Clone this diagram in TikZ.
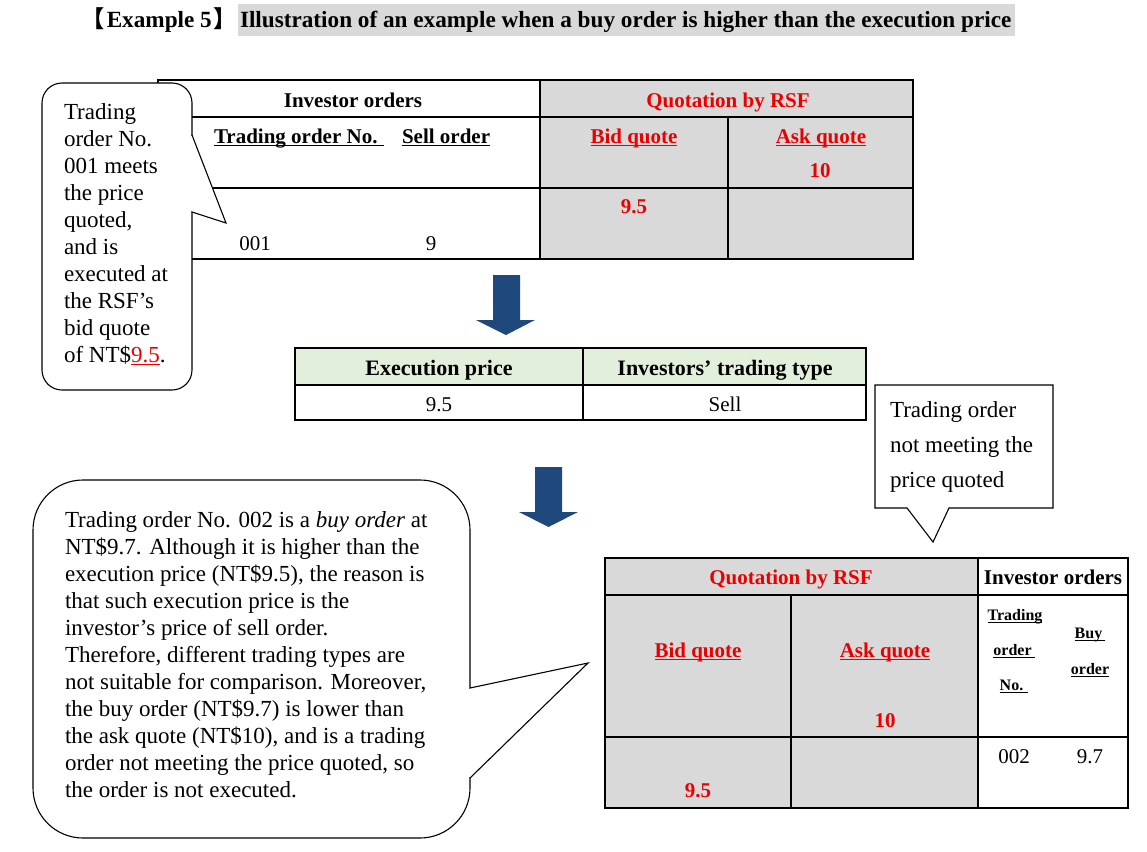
\documentclass[tikz,border=0pt]{standalone}
\usepackage{fontspec}
\setmainfont{Liberation Serif}
\newfontfamily\cjk{Noto Sans CJK SC}
\definecolor{qgray}{RGB}{217,217,217}
\definecolor{hgreen}{RGB}{226,239,218}
\definecolor{ablue}{RGB}{31,73,125}
\definecolor{qred}{RGB}{235,0,0}
\newsavebox{\ulbox}
\newcommand{\uln}[1]{\sbox{\ulbox}{#1}\rlap{\usebox{\ulbox}}\rule[-3.3pt]{\wd\ulbox}{1.5pt}}
\newcommand{\thinul}[1]{\sbox{\ulbox}{#1}\rlap{\usebox{\ulbox}}\rule[-2.6pt]{\wd\ulbox}{0.8pt}}
\newcommand{\calltext}[3]{\parbox[t]{#1}{\fontsize{23}{#2}\selectfont\raggedright #3}}
\tikzset{
  every node/.style={inner sep=0pt, outer sep=0pt},
  tbl/.style={line width=1.1pt, draw=black},
  callout/.style={line width=1.1pt, draw=black, fill=white},
  hdr/.style={font=\fontsize{21}{25}\selectfont\bfseries, anchor=base},
  qhdr/.style={hdr, text=qred},
  cell/.style={font=\fontsize{21}{25}\selectfont, anchor=base},
  small/.style={font=\fontsize{16}{19}\selectfont\bfseries, anchor=base},
  titlefont/.style={font=\fontsize{23.2}{27}\selectfont\bfseries},
  bigarrow/.style={fill=ablue},
}
\begin{document}
\begin{tikzpicture}[x=1pt,y=-1pt]
\useasboundingbox (0,0) rectangle (1147,851);

% ---------- title ----------
\fill[qgray] (238,4) rectangle (1015,36);
\node[anchor=base east, titlefont] (tlab) at (237,28) {{\cjk 【}\hspace{2pt}Example 5\hspace{2pt}{\cjk 】}};
\node[anchor=base west, titlefont] (ttext) at (240,28) {Illustration of an example when a buy order is higher than the execution price};

% ---------- top table ----------
\fill[qgray] (540,80) rectangle (913,259);
\draw[tbl] (158,80) rectangle (913,259);
\draw[tbl] (158,117) -- (913,117);
\draw[tbl] (158,188) -- (913,188);
\draw[tbl] (540,80) -- (540,259);
\draw[tbl] (728,117) -- (728,259);
\node[hdr] (io1) at (353,107) {Investor orders};
\node[hdr, anchor=base west] (ton1) at (214,143) {\uln{Trading order No.\hspace{6pt}}};
\node[hdr, anchor=base west] (so1) at (402,143) {\uln{Sell order}};
\node[cell] (n001) at (255,250) {001};
\node[cell] (p9) at (431,250) {9};
\node[qhdr] (q1) at (728,107) {Quotation by RSF};
\node[qhdr] (bq1) at (634,143) {\uln{Bid quote}};
\node[qhdr] (aq1) at (821,143) {\uln{Ask quote}};
\node[qhdr] (ten1) at (820,177) {10};
\node[qhdr] (nf1) at (634,213) {9.5};

% ---------- top-left callout ----------
\draw[callout, rounded corners=20] (42,83) rectangle (192,390);
\fill[white] (190,136) rectangle (194,211);
\filldraw[fill=white, draw=black, line width=1.1pt] (192,135) -- (226,223) -- (192,212);
\node[anchor=base west] (c1) at (64,119) {\calltext{140pt}{27}{Trading\\ order No.\\ 001 meets\\ the price\\ quoted,\\ and is\\ executed at\\ the RSF’s\\ bid quote\\ of NT\$\textcolor{qred}{\thinul{9.5}}.}};

% ---------- arrow 1 ----------
\fill[bigarrow] (493,275) -- (520,275) -- (520,320) -- (535,320) -- (506,335) -- (476,320) -- (493,320) -- cycle;

% ---------- execution table ----------
\fill[hgreen] (295,348) rectangle (866,385);
\draw[tbl] (295,348) rectangle (866,420);
\draw[tbl] (295,385) -- (866,385);
\draw[tbl] (583,348) -- (583,420);
\node[hdr, font=\fontsize{22}{26}\selectfont\bfseries] (ep) at (439,375) {Execution price};
\node[hdr, font=\fontsize{22}{26}\selectfont\bfseries] (itt) at (725,375) {Investors’ trading type};
\node[cell] (ev) at (439,411) {9.5};
\node[cell] (tv) at (725,411) {Sell};

% ---------- right callout ----------
\draw[callout, line join=miter] (875,385) -- (1053,385) -- (1053,508) -- (949,508) -- (933,542) -- (907,508) -- (875,508) -- cycle;
\node[anchor=base west] (c2) at (890,417) {\calltext{170pt}{35}{Trading order\\ not meeting the\\ price quoted}};

% ---------- arrow 2 ----------
\fill[bigarrow] (535,467) -- (562,467) -- (562,512) -- (578,512) -- (548.5,527) -- (519,512) -- (535,512) -- cycle;

% ---------- bottom table ----------
\fill[qgray] (605,558) rectangle (978,808);
\draw[tbl] (605,558) rectangle (1128,808);
\draw[tbl] (605,595) -- (1128,595);
\draw[tbl] (605,737) -- (1128,737);
\draw[tbl] (791,595) -- (791,808);
\draw[tbl] (978,558) -- (978,808);
\node[qhdr] (q2) at (791,584) {Quotation by RSF};
\node[hdr] (io2) at (1053,584) {Investor orders};
\node[qhdr] (bq2) at (698,657) {\uln{Bid quote}};
\node[qhdr] (aq2) at (885,657) {\uln{Ask quote}};
\node[qhdr] (ten2) at (885,727) {10};
\node[qhdr] (nf2) at (698,797) {9.5};
\node[small] (tr2) at (1015,620) {\uln{Trading}};
\node[small] (or2) at (1014,655) {\uln{order\hspace{3pt}}};
\node[small] (no2) at (1014,690) {\uln{No.\hspace{5pt}}};
\node[small] (bu2) at (1090,638) {\uln{Buy\hspace{3pt}}};
\node[small] (ob2) at (1090,674) {\uln{order}};
\node[cell] (n002) at (1014,763) {002};
\node[cell] (p97) at (1090,763) {9.7};

% ---------- bottom-left callout ----------
\draw[callout, rounded corners=50] (33,480) rectangle (470,838);
\fill[white] (468,689) rectangle (472,777);
\filldraw[fill=white, draw=black, line width=1.1pt] (470,688) -- (588,663) -- (470,778);
\node[anchor=base west] (c3) at (65,527) {\calltext{420pt}{27}{Trading order No. 002 is a \textit{buy order} at\\ NT\$9.7. Although it is higher than the\\ execution price (NT\$9.5), the reason is\\ that such execution price is the\\ investor’s price of sell order.\\ Therefore, different trading types are\\ not suitable for comparison. Moreover,\\ the buy order (NT\$9.7) is lower than\\ the ask quote (NT\$10), and is a trading\\ order not meeting the price quoted, so\\ the order is not executed.}};
\end{tikzpicture}
\end{document}
